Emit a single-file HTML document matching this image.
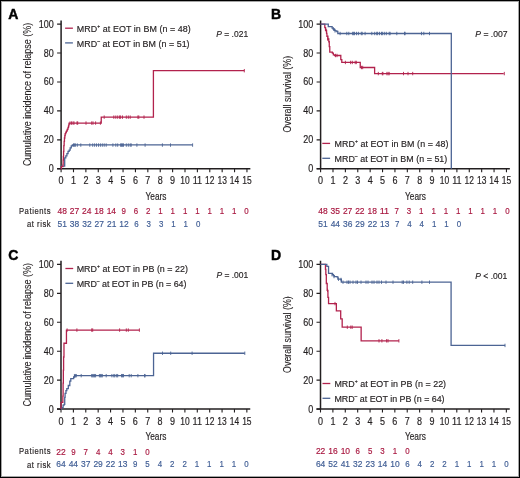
<!DOCTYPE html><html><head><meta charset="utf-8"><style>html,body{margin:0;padding:0;background:#fff;}svg{display:block;will-change:transform;}text{font-family:"Liberation Sans", sans-serif;paint-order:stroke;} text.n{stroke-width:0.28px;}</style></head><body>
<svg width="520" height="478" viewBox="0 0 520 478">
<rect x="0" y="0" width="520" height="478" fill="#fff"/>
<rect x="0.5" y="0.5" width="519" height="477" fill="none" stroke="#000" stroke-width="1"/>
<rect x="1.5" y="1.5" width="517" height="475" fill="none" stroke="#000" stroke-width="1" stroke-opacity="0.35"/>
<text x="8.3" y="18.6" font-size="14.0" font-weight="bold" fill="#000" stroke="#000" stroke-width="0.45">A</text>
<path d="M61.10 20.50V168.80M57.10 168.80H250.35" stroke="#231f20" stroke-width="1.5" fill="none"/>
<path d="M57.10 168.80H61.10M57.10 139.86H61.10M57.10 110.92H61.10M57.10 81.98H61.10M57.10 53.04H61.10M57.10 24.10H61.10M61.10 168.80V172.20M73.49 168.80V172.20M85.88 168.80V172.20M98.27 168.80V172.20M110.66 168.80V172.20M123.05 168.80V172.20M135.44 168.80V172.20M147.83 168.80V172.20M160.22 168.80V172.20M172.61 168.80V172.20M185.00 168.80V172.20M197.39 168.80V172.20M209.78 168.80V172.20M222.17 168.80V172.20M234.56 168.80V172.20M246.95 168.80V172.20" stroke="#231f20" stroke-width="1.1" fill="none"/>
<text x="53.80" y="172.30" font-size="10.0" text-anchor="end" fill="#231f20" stroke="#231f20" stroke-width="0.18" textLength="5.00" lengthAdjust="spacingAndGlyphs" >0</text>
<text x="53.80" y="143.36" font-size="10.0" text-anchor="end" fill="#231f20" stroke="#231f20" stroke-width="0.18" textLength="10.00" lengthAdjust="spacingAndGlyphs" >20</text>
<text x="53.80" y="114.42" font-size="10.0" text-anchor="end" fill="#231f20" stroke="#231f20" stroke-width="0.18" textLength="10.00" lengthAdjust="spacingAndGlyphs" >40</text>
<text x="53.80" y="85.48" font-size="10.0" text-anchor="end" fill="#231f20" stroke="#231f20" stroke-width="0.18" textLength="10.00" lengthAdjust="spacingAndGlyphs" >60</text>
<text x="53.80" y="56.54" font-size="10.0" text-anchor="end" fill="#231f20" stroke="#231f20" stroke-width="0.18" textLength="10.00" lengthAdjust="spacingAndGlyphs" >80</text>
<text x="53.80" y="27.60" font-size="10.0" text-anchor="end" fill="#231f20" stroke="#231f20" stroke-width="0.18" textLength="15.00" lengthAdjust="spacingAndGlyphs" >100</text>
<text x="61.10" y="184.30" font-size="10.0" text-anchor="middle" fill="#231f20" stroke="#231f20" stroke-width="0.18" textLength="5.00" lengthAdjust="spacingAndGlyphs" >0</text>
<text x="73.49" y="184.30" font-size="10.0" text-anchor="middle" fill="#231f20" stroke="#231f20" stroke-width="0.18" textLength="5.00" lengthAdjust="spacingAndGlyphs" >1</text>
<text x="85.88" y="184.30" font-size="10.0" text-anchor="middle" fill="#231f20" stroke="#231f20" stroke-width="0.18" textLength="5.00" lengthAdjust="spacingAndGlyphs" >2</text>
<text x="98.27" y="184.30" font-size="10.0" text-anchor="middle" fill="#231f20" stroke="#231f20" stroke-width="0.18" textLength="5.00" lengthAdjust="spacingAndGlyphs" >3</text>
<text x="110.66" y="184.30" font-size="10.0" text-anchor="middle" fill="#231f20" stroke="#231f20" stroke-width="0.18" textLength="5.00" lengthAdjust="spacingAndGlyphs" >4</text>
<text x="123.05" y="184.30" font-size="10.0" text-anchor="middle" fill="#231f20" stroke="#231f20" stroke-width="0.18" textLength="5.00" lengthAdjust="spacingAndGlyphs" >5</text>
<text x="135.44" y="184.30" font-size="10.0" text-anchor="middle" fill="#231f20" stroke="#231f20" stroke-width="0.18" textLength="5.00" lengthAdjust="spacingAndGlyphs" >6</text>
<text x="147.83" y="184.30" font-size="10.0" text-anchor="middle" fill="#231f20" stroke="#231f20" stroke-width="0.18" textLength="5.00" lengthAdjust="spacingAndGlyphs" >7</text>
<text x="160.22" y="184.30" font-size="10.0" text-anchor="middle" fill="#231f20" stroke="#231f20" stroke-width="0.18" textLength="5.00" lengthAdjust="spacingAndGlyphs" >8</text>
<text x="172.61" y="184.30" font-size="10.0" text-anchor="middle" fill="#231f20" stroke="#231f20" stroke-width="0.18" textLength="5.00" lengthAdjust="spacingAndGlyphs" >9</text>
<text x="185.00" y="184.30" font-size="10.0" text-anchor="middle" fill="#231f20" stroke="#231f20" stroke-width="0.18" textLength="9.40" lengthAdjust="spacingAndGlyphs" >10</text>
<text x="197.39" y="184.30" font-size="10.0" text-anchor="middle" fill="#231f20" stroke="#231f20" stroke-width="0.18" textLength="9.40" lengthAdjust="spacingAndGlyphs" >11</text>
<text x="209.78" y="184.30" font-size="10.0" text-anchor="middle" fill="#231f20" stroke="#231f20" stroke-width="0.18" textLength="9.40" lengthAdjust="spacingAndGlyphs" >12</text>
<text x="222.17" y="184.30" font-size="10.0" text-anchor="middle" fill="#231f20" stroke="#231f20" stroke-width="0.18" textLength="9.40" lengthAdjust="spacingAndGlyphs" >13</text>
<text x="234.56" y="184.30" font-size="10.0" text-anchor="middle" fill="#231f20" stroke="#231f20" stroke-width="0.18" textLength="9.40" lengthAdjust="spacingAndGlyphs" >14</text>
<text x="246.95" y="184.30" font-size="10.0" text-anchor="middle" fill="#231f20" stroke="#231f20" stroke-width="0.18" textLength="9.40" lengthAdjust="spacingAndGlyphs" >15</text>
<text x="145.50" y="199.70" font-size="11.8" text-anchor="start" fill="#231f20" stroke="#231f20" stroke-width="0.18" textLength="20.90" lengthAdjust="spacingAndGlyphs" >Years</text>
<text transform="translate(31.20 166.10) rotate(-90)" x="0" y="0" font-size="11.6" fill="#231f20" stroke="#231f20" stroke-width="0.12" textLength="143.30" lengthAdjust="spacingAndGlyphs">Cumulative incidence of relapse (%)</text>
<path d="M61.10 168.80H61.35V166.05H64.69V157.95H65.81V155.78H66.92V153.61H68.04V151.29H69.15V150.13H70.14V147.96H71.26V145.79H72.37V144.92H192.56" stroke="#4c6494" stroke-width="1.3" fill="none" stroke-linejoin="miter"/>
<path d="M73.50 143.37V146.77M74.40 143.37V146.77M75.40 143.37V146.77M77.30 143.37V146.77M80.80 143.37V146.77M89.80 143.37V146.77M92.70 143.37V146.77M94.60 143.37V146.77M96.50 143.37V146.77M98.50 143.37V146.77M100.40 143.37V146.77M102.30 143.37V146.77M104.20 143.37V146.77M106.20 143.37V146.77M112.90 143.37V146.77M115.80 143.37V146.77M117.70 143.37V146.77M120.60 143.37V146.77M121.50 143.37V146.77M122.50 143.37V146.77M123.50 143.37V146.77M126.30 143.37V146.77M128.30 143.37V146.77M130.20 143.37V146.77M131.20 143.37V146.77M136.90 143.37V146.77M145.10 143.37V146.77M162.40 143.37V146.77M170.50 143.37V146.77M192.60 143.37V146.77" stroke="#4c6494" stroke-width="0.9" fill="none"/>
<path d="M61.10 168.80H61.35V166.63H62.96V164.46H63.14V160.12H63.33V156.50H63.58V151.44H63.83V145.65H64.14V141.31H64.45V137.98H64.82V135.52H65.19V133.64H65.81V132.34H66.30V131.32H66.92V130.17H67.42V129.15H68.04V127.42H68.53V125.82H68.91V124.23H69.15V123.07H101.24V117.14H153.41V70.69H244.35" stroke="#b2224d" stroke-width="1.3" fill="none" stroke-linejoin="miter"/>
<path d="M70.00 121.37V124.77M71.50 121.37V124.77M73.00 121.37V124.77M74.00 121.37V124.77M77.00 121.37V124.77M77.70 121.37V124.77M86.00 121.37V124.77M91.70 121.37V124.77M93.00 121.37V124.77M95.60 121.37V124.77M100.40 121.37V124.77M104.20 115.44V118.84M113.80 115.44V118.84M115.80 115.44V118.84M117.70 115.44V118.84M119.60 115.44V118.84M120.60 115.44V118.84M122.50 115.44V118.84M126.30 115.44V118.84M128.30 115.44V118.84M130.20 115.44V118.84M137.90 115.44V118.84M138.80 115.44V118.84M144.00 115.44V118.84M244.30 68.99V72.39" stroke="#b2224d" stroke-width="0.9" fill="none"/>
<path d="M65.10 28.20H72.90" stroke="#b2224d" stroke-width="1.3"/>
<text transform="translate(76.80 31.80) scale(0.9 1)" x="0" y="0" font-size="9.9" text-anchor="start" fill="#231f20" stroke="#231f20" stroke-width="0.18" textLength="126.67" lengthAdjust="spacing">MRD<tspan font-size="5.6" dy="-4.0">+</tspan><tspan dy="4.0"> at EOT in BM (n = 48)</tspan></text>
<path d="M65.10 42.90H72.90" stroke="#4c6494" stroke-width="1.3"/>
<text transform="translate(76.80 46.50) scale(0.9 1)" x="0" y="0" font-size="9.9" text-anchor="start" fill="#231f20" stroke="#231f20" stroke-width="0.18" textLength="125.33" lengthAdjust="spacing">MRD<tspan font-size="5.6" dy="-4.0">–</tspan><tspan dy="4.0"> at EOT in BM (n = 51)</tspan></text>
<text x="216.30" y="36.70" font-size="9.8" fill="#231f20" stroke="#231f20" stroke-width="0.18" textLength="31.80" lengthAdjust="spacingAndGlyphs"><tspan font-style="italic">P</tspan> = .021</text>
<text transform="translate(50.60 213.80) scale(0.8 1)" x="0" y="0" font-size="9.6" text-anchor="end" fill="#231f20" stroke="#231f20" stroke-width="0.18" textLength="39.62" lengthAdjust="spacing">Patients</text>
<text transform="translate(50.60 227.40) scale(0.8 1)" x="0" y="0" font-size="9.6" text-anchor="end" fill="#231f20" stroke="#231f20" stroke-width="0.18" textLength="29.62" lengthAdjust="spacing">at risk</text>
<text x="62.20" y="213.90" font-size="9.8" text-anchor="middle" fill="#a8163f" stroke="#a8163f" stroke-width="0.18" textLength="9.40" lengthAdjust="spacingAndGlyphs" >48</text>
<text x="74.49" y="213.90" font-size="9.8" text-anchor="middle" fill="#a8163f" stroke="#a8163f" stroke-width="0.18" textLength="9.40" lengthAdjust="spacingAndGlyphs" >27</text>
<text x="86.78" y="213.90" font-size="9.8" text-anchor="middle" fill="#a8163f" stroke="#a8163f" stroke-width="0.18" textLength="9.40" lengthAdjust="spacingAndGlyphs" >24</text>
<text x="99.07" y="213.90" font-size="9.8" text-anchor="middle" fill="#a8163f" stroke="#a8163f" stroke-width="0.18" textLength="9.40" lengthAdjust="spacingAndGlyphs" >18</text>
<text x="111.36" y="213.90" font-size="9.8" text-anchor="middle" fill="#a8163f" stroke="#a8163f" stroke-width="0.18" textLength="9.40" lengthAdjust="spacingAndGlyphs" >14</text>
<text x="123.65" y="213.90" font-size="9.8" text-anchor="middle" fill="#a8163f" stroke="#a8163f" stroke-width="0.18" textLength="4.40" lengthAdjust="spacingAndGlyphs" >9</text>
<text x="135.94" y="213.90" font-size="9.8" text-anchor="middle" fill="#a8163f" stroke="#a8163f" stroke-width="0.18" textLength="4.40" lengthAdjust="spacingAndGlyphs" >6</text>
<text x="148.23" y="213.90" font-size="9.8" text-anchor="middle" fill="#a8163f" stroke="#a8163f" stroke-width="0.18" textLength="4.40" lengthAdjust="spacingAndGlyphs" >2</text>
<text x="160.52" y="213.90" font-size="9.8" text-anchor="middle" fill="#a8163f" stroke="#a8163f" stroke-width="0.18" textLength="4.40" lengthAdjust="spacingAndGlyphs" >1</text>
<text x="172.81" y="213.90" font-size="9.8" text-anchor="middle" fill="#a8163f" stroke="#a8163f" stroke-width="0.18" textLength="4.40" lengthAdjust="spacingAndGlyphs" >1</text>
<text x="185.10" y="213.90" font-size="9.8" text-anchor="middle" fill="#a8163f" stroke="#a8163f" stroke-width="0.18" textLength="4.40" lengthAdjust="spacingAndGlyphs" >1</text>
<text x="197.39" y="213.90" font-size="9.8" text-anchor="middle" fill="#a8163f" stroke="#a8163f" stroke-width="0.18" textLength="4.40" lengthAdjust="spacingAndGlyphs" >1</text>
<text x="209.68" y="213.90" font-size="9.8" text-anchor="middle" fill="#a8163f" stroke="#a8163f" stroke-width="0.18" textLength="4.40" lengthAdjust="spacingAndGlyphs" >1</text>
<text x="221.97" y="213.90" font-size="9.8" text-anchor="middle" fill="#a8163f" stroke="#a8163f" stroke-width="0.18" textLength="4.40" lengthAdjust="spacingAndGlyphs" >1</text>
<text x="234.26" y="213.90" font-size="9.8" text-anchor="middle" fill="#a8163f" stroke="#a8163f" stroke-width="0.18" textLength="4.40" lengthAdjust="spacingAndGlyphs" >1</text>
<text x="246.55" y="213.90" font-size="9.8" text-anchor="middle" fill="#a8163f" stroke="#a8163f" stroke-width="0.18" textLength="4.40" lengthAdjust="spacingAndGlyphs" >0</text>
<text x="62.20" y="227.30" font-size="9.8" text-anchor="middle" fill="#3d5b93" stroke="#3d5b93" stroke-width="0.18" textLength="9.40" lengthAdjust="spacingAndGlyphs" >51</text>
<text x="74.56" y="227.30" font-size="9.8" text-anchor="middle" fill="#3d5b93" stroke="#3d5b93" stroke-width="0.18" textLength="9.40" lengthAdjust="spacingAndGlyphs" >38</text>
<text x="86.92" y="227.30" font-size="9.8" text-anchor="middle" fill="#3d5b93" stroke="#3d5b93" stroke-width="0.18" textLength="9.40" lengthAdjust="spacingAndGlyphs" >32</text>
<text x="99.28" y="227.30" font-size="9.8" text-anchor="middle" fill="#3d5b93" stroke="#3d5b93" stroke-width="0.18" textLength="9.40" lengthAdjust="spacingAndGlyphs" >27</text>
<text x="111.64" y="227.30" font-size="9.8" text-anchor="middle" fill="#3d5b93" stroke="#3d5b93" stroke-width="0.18" textLength="9.40" lengthAdjust="spacingAndGlyphs" >21</text>
<text x="124.00" y="227.30" font-size="9.8" text-anchor="middle" fill="#3d5b93" stroke="#3d5b93" stroke-width="0.18" textLength="9.40" lengthAdjust="spacingAndGlyphs" >12</text>
<text x="136.36" y="227.30" font-size="9.8" text-anchor="middle" fill="#3d5b93" stroke="#3d5b93" stroke-width="0.18" textLength="4.40" lengthAdjust="spacingAndGlyphs" >6</text>
<text x="148.72" y="227.30" font-size="9.8" text-anchor="middle" fill="#3d5b93" stroke="#3d5b93" stroke-width="0.18" textLength="4.40" lengthAdjust="spacingAndGlyphs" >3</text>
<text x="161.08" y="227.30" font-size="9.8" text-anchor="middle" fill="#3d5b93" stroke="#3d5b93" stroke-width="0.18" textLength="4.40" lengthAdjust="spacingAndGlyphs" >3</text>
<text x="173.44" y="227.30" font-size="9.8" text-anchor="middle" fill="#3d5b93" stroke="#3d5b93" stroke-width="0.18" textLength="4.40" lengthAdjust="spacingAndGlyphs" >1</text>
<text x="185.80" y="227.30" font-size="9.8" text-anchor="middle" fill="#3d5b93" stroke="#3d5b93" stroke-width="0.18" textLength="4.40" lengthAdjust="spacingAndGlyphs" >1</text>
<text x="198.16" y="227.30" font-size="9.8" text-anchor="middle" fill="#3d5b93" stroke="#3d5b93" stroke-width="0.18" textLength="4.40" lengthAdjust="spacingAndGlyphs" >0</text>
<text x="270.9" y="18.7" font-size="14.0" font-weight="bold" fill="#000" stroke="#000" stroke-width="0.45">B</text>
<path d="M320.60 20.50V168.80M316.60 168.80H509.85" stroke="#231f20" stroke-width="1.5" fill="none"/>
<path d="M316.60 168.80H320.60M316.60 139.86H320.60M316.60 110.92H320.60M316.60 81.98H320.60M316.60 53.04H320.60M316.60 24.10H320.60M320.60 168.80V172.20M332.99 168.80V172.20M345.38 168.80V172.20M357.77 168.80V172.20M370.16 168.80V172.20M382.55 168.80V172.20M394.94 168.80V172.20M407.33 168.80V172.20M419.72 168.80V172.20M432.11 168.80V172.20M444.50 168.80V172.20M456.89 168.80V172.20M469.28 168.80V172.20M481.67 168.80V172.20M494.06 168.80V172.20M506.45 168.80V172.20" stroke="#231f20" stroke-width="1.1" fill="none"/>
<text x="313.30" y="172.30" font-size="10.0" text-anchor="end" fill="#231f20" stroke="#231f20" stroke-width="0.18" textLength="5.00" lengthAdjust="spacingAndGlyphs" >0</text>
<text x="313.30" y="143.36" font-size="10.0" text-anchor="end" fill="#231f20" stroke="#231f20" stroke-width="0.18" textLength="10.00" lengthAdjust="spacingAndGlyphs" >20</text>
<text x="313.30" y="114.42" font-size="10.0" text-anchor="end" fill="#231f20" stroke="#231f20" stroke-width="0.18" textLength="10.00" lengthAdjust="spacingAndGlyphs" >40</text>
<text x="313.30" y="85.48" font-size="10.0" text-anchor="end" fill="#231f20" stroke="#231f20" stroke-width="0.18" textLength="10.00" lengthAdjust="spacingAndGlyphs" >60</text>
<text x="313.30" y="56.54" font-size="10.0" text-anchor="end" fill="#231f20" stroke="#231f20" stroke-width="0.18" textLength="10.00" lengthAdjust="spacingAndGlyphs" >80</text>
<text x="313.30" y="27.60" font-size="10.0" text-anchor="end" fill="#231f20" stroke="#231f20" stroke-width="0.18" textLength="15.00" lengthAdjust="spacingAndGlyphs" >100</text>
<text x="320.60" y="184.30" font-size="10.0" text-anchor="middle" fill="#231f20" stroke="#231f20" stroke-width="0.18" textLength="5.00" lengthAdjust="spacingAndGlyphs" >0</text>
<text x="332.99" y="184.30" font-size="10.0" text-anchor="middle" fill="#231f20" stroke="#231f20" stroke-width="0.18" textLength="5.00" lengthAdjust="spacingAndGlyphs" >1</text>
<text x="345.38" y="184.30" font-size="10.0" text-anchor="middle" fill="#231f20" stroke="#231f20" stroke-width="0.18" textLength="5.00" lengthAdjust="spacingAndGlyphs" >2</text>
<text x="357.77" y="184.30" font-size="10.0" text-anchor="middle" fill="#231f20" stroke="#231f20" stroke-width="0.18" textLength="5.00" lengthAdjust="spacingAndGlyphs" >3</text>
<text x="370.16" y="184.30" font-size="10.0" text-anchor="middle" fill="#231f20" stroke="#231f20" stroke-width="0.18" textLength="5.00" lengthAdjust="spacingAndGlyphs" >4</text>
<text x="382.55" y="184.30" font-size="10.0" text-anchor="middle" fill="#231f20" stroke="#231f20" stroke-width="0.18" textLength="5.00" lengthAdjust="spacingAndGlyphs" >5</text>
<text x="394.94" y="184.30" font-size="10.0" text-anchor="middle" fill="#231f20" stroke="#231f20" stroke-width="0.18" textLength="5.00" lengthAdjust="spacingAndGlyphs" >6</text>
<text x="407.33" y="184.30" font-size="10.0" text-anchor="middle" fill="#231f20" stroke="#231f20" stroke-width="0.18" textLength="5.00" lengthAdjust="spacingAndGlyphs" >7</text>
<text x="419.72" y="184.30" font-size="10.0" text-anchor="middle" fill="#231f20" stroke="#231f20" stroke-width="0.18" textLength="5.00" lengthAdjust="spacingAndGlyphs" >8</text>
<text x="432.11" y="184.30" font-size="10.0" text-anchor="middle" fill="#231f20" stroke="#231f20" stroke-width="0.18" textLength="5.00" lengthAdjust="spacingAndGlyphs" >9</text>
<text x="444.50" y="184.30" font-size="10.0" text-anchor="middle" fill="#231f20" stroke="#231f20" stroke-width="0.18" textLength="9.40" lengthAdjust="spacingAndGlyphs" >10</text>
<text x="456.89" y="184.30" font-size="10.0" text-anchor="middle" fill="#231f20" stroke="#231f20" stroke-width="0.18" textLength="9.40" lengthAdjust="spacingAndGlyphs" >11</text>
<text x="469.28" y="184.30" font-size="10.0" text-anchor="middle" fill="#231f20" stroke="#231f20" stroke-width="0.18" textLength="9.40" lengthAdjust="spacingAndGlyphs" >12</text>
<text x="481.67" y="184.30" font-size="10.0" text-anchor="middle" fill="#231f20" stroke="#231f20" stroke-width="0.18" textLength="9.40" lengthAdjust="spacingAndGlyphs" >13</text>
<text x="494.06" y="184.30" font-size="10.0" text-anchor="middle" fill="#231f20" stroke="#231f20" stroke-width="0.18" textLength="9.40" lengthAdjust="spacingAndGlyphs" >14</text>
<text x="506.45" y="184.30" font-size="10.0" text-anchor="middle" fill="#231f20" stroke="#231f20" stroke-width="0.18" textLength="9.40" lengthAdjust="spacingAndGlyphs" >15</text>
<text x="405.00" y="199.70" font-size="11.8" text-anchor="start" fill="#231f20" stroke="#231f20" stroke-width="0.18" textLength="20.90" lengthAdjust="spacingAndGlyphs" >Years</text>
<text transform="translate(290.90 132.60) rotate(-90)" x="0" y="0" font-size="11.6" fill="#231f20" stroke="#231f20" stroke-width="0.12" textLength="76.70" lengthAdjust="spacingAndGlyphs">Overall survival (%)</text>
<path d="M320.60 24.10H324.81V27.72H325.56V30.47H326.55V33.36H326.92V36.25H327.91V39.00H328.78V41.75H329.27V46.53H329.77V52.17H332.37V53.04H333.36V54.92H334.60V55.50H340.80V59.70H341.79V62.45H360.25V67.51H374.62V73.59H503.72" stroke="#b2224d" stroke-width="1.3" fill="none" stroke-linejoin="miter"/>
<path d="M345.40 60.75V64.15M350.60 60.75V64.15M352.30 60.75V64.15M355.20 60.75V64.15M356.30 60.75V64.15M361.50 65.81V69.21M362.70 65.81V69.21M378.30 71.89V75.29M382.30 71.89V75.29M382.90 71.89V75.29M386.90 71.89V75.29M388.10 71.89V75.29M389.20 71.89V75.29M403.50 71.89V75.29M408.00 71.89V75.29M412.70 71.89V75.29M504.30 71.89V75.29M326.20 28.77V32.17M327.60 37.30V40.70M335.50 53.80V57.20M337.00 53.80V57.20" stroke="#b2224d" stroke-width="0.9" fill="none"/>
<path d="M320.60 24.10H328.28V26.70H332.12V28.15H333.11V29.02H334.48V30.47H335.47V30.90H336.83V31.48H337.82V33.51H451.31V168.80" stroke="#4c6494" stroke-width="1.3" fill="none" stroke-linejoin="miter"/>
<path d="M340.10 31.81V35.21M346.80 31.81V35.21M348.80 31.81V35.21M352.60 31.81V35.21M353.60 31.81V35.21M354.50 31.81V35.21M356.50 31.81V35.21M358.40 31.81V35.21M361.30 31.81V35.21M362.20 31.81V35.21M365.10 31.81V35.21M371.80 31.81V35.21M374.70 31.81V35.21M376.70 31.81V35.21M377.60 31.81V35.21M379.50 31.81V35.21M381.50 31.81V35.21M382.40 31.81V35.21M384.30 31.81V35.21M386.30 31.81V35.21M389.20 31.81V35.21M390.10 31.81V35.21M396.80 31.81V35.21M404.50 31.81V35.21M405.10 31.81V35.21M421.50 31.81V35.21M423.80 31.81V35.21M429.50 31.81V35.21M333.50 27.32V30.72M335.00 29.20V32.60" stroke="#4c6494" stroke-width="0.9" fill="none"/>
<path d="M322.30 143.40H330.10" stroke="#b2224d" stroke-width="1.3"/>
<text transform="translate(334.50 147.00) scale(0.9 1)" x="0" y="0" font-size="9.9" text-anchor="start" fill="#231f20" stroke="#231f20" stroke-width="0.18" textLength="126.67" lengthAdjust="spacing">MRD<tspan font-size="5.6" dy="-4.0">+</tspan><tspan dy="4.0"> at EOT in BM (n = 48)</tspan></text>
<path d="M322.30 158.30H330.10" stroke="#4c6494" stroke-width="1.3"/>
<text transform="translate(334.50 161.90) scale(0.9 1)" x="0" y="0" font-size="9.9" text-anchor="start" fill="#231f20" stroke="#231f20" stroke-width="0.18" textLength="125.33" lengthAdjust="spacing">MRD<tspan font-size="5.6" dy="-4.0">–</tspan><tspan dy="4.0"> at EOT in BM (n = 51)</tspan></text>
<text x="475.30" y="36.70" font-size="9.8" fill="#231f20" stroke="#231f20" stroke-width="0.18" textLength="32.30" lengthAdjust="spacingAndGlyphs"><tspan font-style="italic">P</tspan> = .007</text>
<text x="323.00" y="213.90" font-size="9.8" text-anchor="middle" fill="#a8163f" stroke="#a8163f" stroke-width="0.18" textLength="9.40" lengthAdjust="spacingAndGlyphs" >48</text>
<text x="335.29" y="213.90" font-size="9.8" text-anchor="middle" fill="#a8163f" stroke="#a8163f" stroke-width="0.18" textLength="9.40" lengthAdjust="spacingAndGlyphs" >35</text>
<text x="347.58" y="213.90" font-size="9.8" text-anchor="middle" fill="#a8163f" stroke="#a8163f" stroke-width="0.18" textLength="9.40" lengthAdjust="spacingAndGlyphs" >27</text>
<text x="359.87" y="213.90" font-size="9.8" text-anchor="middle" fill="#a8163f" stroke="#a8163f" stroke-width="0.18" textLength="9.40" lengthAdjust="spacingAndGlyphs" >22</text>
<text x="372.16" y="213.90" font-size="9.8" text-anchor="middle" fill="#a8163f" stroke="#a8163f" stroke-width="0.18" textLength="9.40" lengthAdjust="spacingAndGlyphs" >18</text>
<text x="384.45" y="213.90" font-size="9.8" text-anchor="middle" fill="#a8163f" stroke="#a8163f" stroke-width="0.18" textLength="9.40" lengthAdjust="spacingAndGlyphs" >11</text>
<text x="396.74" y="213.90" font-size="9.8" text-anchor="middle" fill="#a8163f" stroke="#a8163f" stroke-width="0.18" textLength="4.40" lengthAdjust="spacingAndGlyphs" >7</text>
<text x="409.03" y="213.90" font-size="9.8" text-anchor="middle" fill="#a8163f" stroke="#a8163f" stroke-width="0.18" textLength="4.40" lengthAdjust="spacingAndGlyphs" >3</text>
<text x="421.32" y="213.90" font-size="9.8" text-anchor="middle" fill="#a8163f" stroke="#a8163f" stroke-width="0.18" textLength="4.40" lengthAdjust="spacingAndGlyphs" >1</text>
<text x="433.61" y="213.90" font-size="9.8" text-anchor="middle" fill="#a8163f" stroke="#a8163f" stroke-width="0.18" textLength="4.40" lengthAdjust="spacingAndGlyphs" >1</text>
<text x="445.90" y="213.90" font-size="9.8" text-anchor="middle" fill="#a8163f" stroke="#a8163f" stroke-width="0.18" textLength="4.40" lengthAdjust="spacingAndGlyphs" >1</text>
<text x="458.19" y="213.90" font-size="9.8" text-anchor="middle" fill="#a8163f" stroke="#a8163f" stroke-width="0.18" textLength="4.40" lengthAdjust="spacingAndGlyphs" >1</text>
<text x="470.48" y="213.90" font-size="9.8" text-anchor="middle" fill="#a8163f" stroke="#a8163f" stroke-width="0.18" textLength="4.40" lengthAdjust="spacingAndGlyphs" >1</text>
<text x="482.77" y="213.90" font-size="9.8" text-anchor="middle" fill="#a8163f" stroke="#a8163f" stroke-width="0.18" textLength="4.40" lengthAdjust="spacingAndGlyphs" >1</text>
<text x="495.06" y="213.90" font-size="9.8" text-anchor="middle" fill="#a8163f" stroke="#a8163f" stroke-width="0.18" textLength="4.40" lengthAdjust="spacingAndGlyphs" >1</text>
<text x="507.35" y="213.90" font-size="9.8" text-anchor="middle" fill="#a8163f" stroke="#a8163f" stroke-width="0.18" textLength="4.40" lengthAdjust="spacingAndGlyphs" >0</text>
<text x="323.00" y="227.20" font-size="9.8" text-anchor="middle" fill="#3d5b93" stroke="#3d5b93" stroke-width="0.18" textLength="9.40" lengthAdjust="spacingAndGlyphs" >51</text>
<text x="335.35" y="227.20" font-size="9.8" text-anchor="middle" fill="#3d5b93" stroke="#3d5b93" stroke-width="0.18" textLength="9.40" lengthAdjust="spacingAndGlyphs" >44</text>
<text x="347.70" y="227.20" font-size="9.8" text-anchor="middle" fill="#3d5b93" stroke="#3d5b93" stroke-width="0.18" textLength="9.40" lengthAdjust="spacingAndGlyphs" >36</text>
<text x="360.05" y="227.20" font-size="9.8" text-anchor="middle" fill="#3d5b93" stroke="#3d5b93" stroke-width="0.18" textLength="9.40" lengthAdjust="spacingAndGlyphs" >29</text>
<text x="372.40" y="227.20" font-size="9.8" text-anchor="middle" fill="#3d5b93" stroke="#3d5b93" stroke-width="0.18" textLength="9.40" lengthAdjust="spacingAndGlyphs" >22</text>
<text x="384.75" y="227.20" font-size="9.8" text-anchor="middle" fill="#3d5b93" stroke="#3d5b93" stroke-width="0.18" textLength="9.40" lengthAdjust="spacingAndGlyphs" >13</text>
<text x="397.10" y="227.20" font-size="9.8" text-anchor="middle" fill="#3d5b93" stroke="#3d5b93" stroke-width="0.18" textLength="4.40" lengthAdjust="spacingAndGlyphs" >7</text>
<text x="409.45" y="227.20" font-size="9.8" text-anchor="middle" fill="#3d5b93" stroke="#3d5b93" stroke-width="0.18" textLength="4.40" lengthAdjust="spacingAndGlyphs" >4</text>
<text x="421.80" y="227.20" font-size="9.8" text-anchor="middle" fill="#3d5b93" stroke="#3d5b93" stroke-width="0.18" textLength="4.40" lengthAdjust="spacingAndGlyphs" >4</text>
<text x="434.15" y="227.20" font-size="9.8" text-anchor="middle" fill="#3d5b93" stroke="#3d5b93" stroke-width="0.18" textLength="4.40" lengthAdjust="spacingAndGlyphs" >1</text>
<text x="446.50" y="227.20" font-size="9.8" text-anchor="middle" fill="#3d5b93" stroke="#3d5b93" stroke-width="0.18" textLength="4.40" lengthAdjust="spacingAndGlyphs" >1</text>
<text x="458.85" y="227.20" font-size="9.8" text-anchor="middle" fill="#3d5b93" stroke="#3d5b93" stroke-width="0.18" textLength="4.40" lengthAdjust="spacingAndGlyphs" >0</text>
<text x="8.3" y="259.8" font-size="14.0" font-weight="bold" fill="#000" stroke="#000" stroke-width="0.45">C</text>
<path d="M61.00 260.80V409.10M57.00 409.10H250.25" stroke="#231f20" stroke-width="1.5" fill="none"/>
<path d="M57.00 409.10H61.00M57.00 380.16H61.00M57.00 351.22H61.00M57.00 322.28H61.00M57.00 293.34H61.00M57.00 264.40H61.00M61.00 409.10V412.50M73.39 409.10V412.50M85.78 409.10V412.50M98.17 409.10V412.50M110.56 409.10V412.50M122.95 409.10V412.50M135.34 409.10V412.50M147.73 409.10V412.50M160.12 409.10V412.50M172.51 409.10V412.50M184.90 409.10V412.50M197.29 409.10V412.50M209.68 409.10V412.50M222.07 409.10V412.50M234.46 409.10V412.50M246.85 409.10V412.50" stroke="#231f20" stroke-width="1.1" fill="none"/>
<text x="53.70" y="412.60" font-size="10.0" text-anchor="end" fill="#231f20" stroke="#231f20" stroke-width="0.18" textLength="5.00" lengthAdjust="spacingAndGlyphs" >0</text>
<text x="53.70" y="383.66" font-size="10.0" text-anchor="end" fill="#231f20" stroke="#231f20" stroke-width="0.18" textLength="10.00" lengthAdjust="spacingAndGlyphs" >20</text>
<text x="53.70" y="354.72" font-size="10.0" text-anchor="end" fill="#231f20" stroke="#231f20" stroke-width="0.18" textLength="10.00" lengthAdjust="spacingAndGlyphs" >40</text>
<text x="53.70" y="325.78" font-size="10.0" text-anchor="end" fill="#231f20" stroke="#231f20" stroke-width="0.18" textLength="10.00" lengthAdjust="spacingAndGlyphs" >60</text>
<text x="53.70" y="296.84" font-size="10.0" text-anchor="end" fill="#231f20" stroke="#231f20" stroke-width="0.18" textLength="10.00" lengthAdjust="spacingAndGlyphs" >80</text>
<text x="53.70" y="267.90" font-size="10.0" text-anchor="end" fill="#231f20" stroke="#231f20" stroke-width="0.18" textLength="15.00" lengthAdjust="spacingAndGlyphs" >100</text>
<text x="61.00" y="424.60" font-size="10.0" text-anchor="middle" fill="#231f20" stroke="#231f20" stroke-width="0.18" textLength="5.00" lengthAdjust="spacingAndGlyphs" >0</text>
<text x="73.39" y="424.60" font-size="10.0" text-anchor="middle" fill="#231f20" stroke="#231f20" stroke-width="0.18" textLength="5.00" lengthAdjust="spacingAndGlyphs" >1</text>
<text x="85.78" y="424.60" font-size="10.0" text-anchor="middle" fill="#231f20" stroke="#231f20" stroke-width="0.18" textLength="5.00" lengthAdjust="spacingAndGlyphs" >2</text>
<text x="98.17" y="424.60" font-size="10.0" text-anchor="middle" fill="#231f20" stroke="#231f20" stroke-width="0.18" textLength="5.00" lengthAdjust="spacingAndGlyphs" >3</text>
<text x="110.56" y="424.60" font-size="10.0" text-anchor="middle" fill="#231f20" stroke="#231f20" stroke-width="0.18" textLength="5.00" lengthAdjust="spacingAndGlyphs" >4</text>
<text x="122.95" y="424.60" font-size="10.0" text-anchor="middle" fill="#231f20" stroke="#231f20" stroke-width="0.18" textLength="5.00" lengthAdjust="spacingAndGlyphs" >5</text>
<text x="135.34" y="424.60" font-size="10.0" text-anchor="middle" fill="#231f20" stroke="#231f20" stroke-width="0.18" textLength="5.00" lengthAdjust="spacingAndGlyphs" >6</text>
<text x="147.73" y="424.60" font-size="10.0" text-anchor="middle" fill="#231f20" stroke="#231f20" stroke-width="0.18" textLength="5.00" lengthAdjust="spacingAndGlyphs" >7</text>
<text x="160.12" y="424.60" font-size="10.0" text-anchor="middle" fill="#231f20" stroke="#231f20" stroke-width="0.18" textLength="5.00" lengthAdjust="spacingAndGlyphs" >8</text>
<text x="172.51" y="424.60" font-size="10.0" text-anchor="middle" fill="#231f20" stroke="#231f20" stroke-width="0.18" textLength="5.00" lengthAdjust="spacingAndGlyphs" >9</text>
<text x="184.90" y="424.60" font-size="10.0" text-anchor="middle" fill="#231f20" stroke="#231f20" stroke-width="0.18" textLength="9.40" lengthAdjust="spacingAndGlyphs" >10</text>
<text x="197.29" y="424.60" font-size="10.0" text-anchor="middle" fill="#231f20" stroke="#231f20" stroke-width="0.18" textLength="9.40" lengthAdjust="spacingAndGlyphs" >11</text>
<text x="209.68" y="424.60" font-size="10.0" text-anchor="middle" fill="#231f20" stroke="#231f20" stroke-width="0.18" textLength="9.40" lengthAdjust="spacingAndGlyphs" >12</text>
<text x="222.07" y="424.60" font-size="10.0" text-anchor="middle" fill="#231f20" stroke="#231f20" stroke-width="0.18" textLength="9.40" lengthAdjust="spacingAndGlyphs" >13</text>
<text x="234.46" y="424.60" font-size="10.0" text-anchor="middle" fill="#231f20" stroke="#231f20" stroke-width="0.18" textLength="9.40" lengthAdjust="spacingAndGlyphs" >14</text>
<text x="246.85" y="424.60" font-size="10.0" text-anchor="middle" fill="#231f20" stroke="#231f20" stroke-width="0.18" textLength="9.40" lengthAdjust="spacingAndGlyphs" >15</text>
<text x="145.40" y="440.00" font-size="11.8" text-anchor="start" fill="#231f20" stroke="#231f20" stroke-width="0.18" textLength="20.90" lengthAdjust="spacingAndGlyphs" >Years</text>
<text transform="translate(31.10 406.40) rotate(-90)" x="0" y="0" font-size="11.6" fill="#231f20" stroke="#231f20" stroke-width="0.12" textLength="143.30" lengthAdjust="spacingAndGlyphs">Cumulative incidence of relapse (%)</text>
<path d="M61.00 409.10H61.37V407.65H63.11V405.05H64.10V404.32H64.72V397.38H65.09V393.47H65.96V390.58H66.82V388.55H68.31V385.51H69.80V381.17H70.79V378.71H73.64V376.98H74.63V375.67H153.55V353.25H244.74" stroke="#4c6494" stroke-width="1.3" fill="none" stroke-linejoin="miter"/>
<path d="M74.40 373.97V377.37M75.40 373.97V377.37M76.30 373.97V377.37M81.20 373.97V377.37M91.70 373.97V377.37M92.70 373.97V377.37M93.70 373.97V377.37M94.60 373.97V377.37M95.60 373.97V377.37M99.40 373.97V377.37M100.40 373.97V377.37M101.30 373.97V377.37M102.30 373.97V377.37M106.20 373.97V377.37M111.90 373.97V377.37M113.80 373.97V377.37M114.80 373.97V377.37M116.70 373.97V377.37M117.70 373.97V377.37M121.50 373.97V377.37M122.50 373.97V377.37M123.50 373.97V377.37M129.20 373.97V377.37M131.20 373.97V377.37M137.90 373.97V377.37M144.60 373.97V377.37M145.00 373.97V377.37M162.50 351.55V354.95M170.70 351.55V354.95M192.10 351.55V354.95M244.80 351.55V354.95" stroke="#4c6494" stroke-width="0.9" fill="none"/>
<path d="M61.00 409.10H61.00V402.44H62.86V396.08H63.11V383.05H63.35V370.03H63.60V357.01H63.97V343.26H66.45V330.09H139.43" stroke="#b2224d" stroke-width="1.3" fill="none" stroke-linejoin="miter"/>
<path d="M67.10 328.39V331.79M76.90 328.39V331.79M91.70 328.39V331.79M92.70 328.39V331.79M119.60 328.39V331.79M126.30 328.39V331.79M128.30 328.39V331.79M139.40 328.39V331.79" stroke="#b2224d" stroke-width="0.9" fill="none"/>
<path d="M65.40 268.50H73.20" stroke="#b2224d" stroke-width="1.3"/>
<text transform="translate(76.70 272.10) scale(0.9 1)" x="0" y="0" font-size="9.9" text-anchor="start" fill="#231f20" stroke="#231f20" stroke-width="0.18" textLength="123.56" lengthAdjust="spacing">MRD<tspan font-size="5.6" dy="-4.0">+</tspan><tspan dy="4.0"> at EOT in PB (n = 22)</tspan></text>
<path d="M65.40 283.30H73.20" stroke="#4c6494" stroke-width="1.3"/>
<text transform="translate(76.70 286.90) scale(0.9 1)" x="0" y="0" font-size="9.9" text-anchor="start" fill="#231f20" stroke="#231f20" stroke-width="0.18" textLength="122.00" lengthAdjust="spacing">MRD<tspan font-size="5.6" dy="-4.0">–</tspan><tspan dy="4.0"> at EOT in PB (n = 64)</tspan></text>
<text x="216.40" y="277.80" font-size="9.8" fill="#231f20" stroke="#231f20" stroke-width="0.18" textLength="31.90" lengthAdjust="spacingAndGlyphs"><tspan font-style="italic">P</tspan> = .001</text>
<text transform="translate(50.60 454.40) scale(0.8 1)" x="0" y="0" font-size="9.6" text-anchor="end" fill="#231f20" stroke="#231f20" stroke-width="0.18" textLength="39.62" lengthAdjust="spacing">Patients</text>
<text transform="translate(50.60 467.90) scale(0.8 1)" x="0" y="0" font-size="9.6" text-anchor="end" fill="#231f20" stroke="#231f20" stroke-width="0.18" textLength="29.62" lengthAdjust="spacing">at risk</text>
<text x="61.00" y="454.50" font-size="9.8" text-anchor="middle" fill="#a8163f" stroke="#a8163f" stroke-width="0.18" textLength="9.40" lengthAdjust="spacingAndGlyphs" >22</text>
<text x="73.36" y="454.50" font-size="9.8" text-anchor="middle" fill="#a8163f" stroke="#a8163f" stroke-width="0.18" textLength="4.40" lengthAdjust="spacingAndGlyphs" >9</text>
<text x="85.72" y="454.50" font-size="9.8" text-anchor="middle" fill="#a8163f" stroke="#a8163f" stroke-width="0.18" textLength="4.40" lengthAdjust="spacingAndGlyphs" >7</text>
<text x="98.08" y="454.50" font-size="9.8" text-anchor="middle" fill="#a8163f" stroke="#a8163f" stroke-width="0.18" textLength="4.40" lengthAdjust="spacingAndGlyphs" >4</text>
<text x="110.44" y="454.50" font-size="9.8" text-anchor="middle" fill="#a8163f" stroke="#a8163f" stroke-width="0.18" textLength="4.40" lengthAdjust="spacingAndGlyphs" >4</text>
<text x="122.80" y="454.50" font-size="9.8" text-anchor="middle" fill="#a8163f" stroke="#a8163f" stroke-width="0.18" textLength="4.40" lengthAdjust="spacingAndGlyphs" >3</text>
<text x="135.16" y="454.50" font-size="9.8" text-anchor="middle" fill="#a8163f" stroke="#a8163f" stroke-width="0.18" textLength="4.40" lengthAdjust="spacingAndGlyphs" >1</text>
<text x="147.52" y="454.50" font-size="9.8" text-anchor="middle" fill="#a8163f" stroke="#a8163f" stroke-width="0.18" textLength="4.40" lengthAdjust="spacingAndGlyphs" >0</text>
<text x="61.00" y="467.40" font-size="9.8" text-anchor="middle" fill="#3d5b93" stroke="#3d5b93" stroke-width="0.18" textLength="9.40" lengthAdjust="spacingAndGlyphs" >64</text>
<text x="73.36" y="467.40" font-size="9.8" text-anchor="middle" fill="#3d5b93" stroke="#3d5b93" stroke-width="0.18" textLength="9.40" lengthAdjust="spacingAndGlyphs" >44</text>
<text x="85.72" y="467.40" font-size="9.8" text-anchor="middle" fill="#3d5b93" stroke="#3d5b93" stroke-width="0.18" textLength="9.40" lengthAdjust="spacingAndGlyphs" >37</text>
<text x="98.08" y="467.40" font-size="9.8" text-anchor="middle" fill="#3d5b93" stroke="#3d5b93" stroke-width="0.18" textLength="9.40" lengthAdjust="spacingAndGlyphs" >29</text>
<text x="110.44" y="467.40" font-size="9.8" text-anchor="middle" fill="#3d5b93" stroke="#3d5b93" stroke-width="0.18" textLength="9.40" lengthAdjust="spacingAndGlyphs" >22</text>
<text x="122.80" y="467.40" font-size="9.8" text-anchor="middle" fill="#3d5b93" stroke="#3d5b93" stroke-width="0.18" textLength="9.40" lengthAdjust="spacingAndGlyphs" >13</text>
<text x="135.16" y="467.40" font-size="9.8" text-anchor="middle" fill="#3d5b93" stroke="#3d5b93" stroke-width="0.18" textLength="4.40" lengthAdjust="spacingAndGlyphs" >9</text>
<text x="147.52" y="467.40" font-size="9.8" text-anchor="middle" fill="#3d5b93" stroke="#3d5b93" stroke-width="0.18" textLength="4.40" lengthAdjust="spacingAndGlyphs" >5</text>
<text x="159.88" y="467.40" font-size="9.8" text-anchor="middle" fill="#3d5b93" stroke="#3d5b93" stroke-width="0.18" textLength="4.40" lengthAdjust="spacingAndGlyphs" >4</text>
<text x="172.24" y="467.40" font-size="9.8" text-anchor="middle" fill="#3d5b93" stroke="#3d5b93" stroke-width="0.18" textLength="4.40" lengthAdjust="spacingAndGlyphs" >2</text>
<text x="184.60" y="467.40" font-size="9.8" text-anchor="middle" fill="#3d5b93" stroke="#3d5b93" stroke-width="0.18" textLength="4.40" lengthAdjust="spacingAndGlyphs" >2</text>
<text x="196.96" y="467.40" font-size="9.8" text-anchor="middle" fill="#3d5b93" stroke="#3d5b93" stroke-width="0.18" textLength="4.40" lengthAdjust="spacingAndGlyphs" >1</text>
<text x="209.32" y="467.40" font-size="9.8" text-anchor="middle" fill="#3d5b93" stroke="#3d5b93" stroke-width="0.18" textLength="4.40" lengthAdjust="spacingAndGlyphs" >1</text>
<text x="221.68" y="467.40" font-size="9.8" text-anchor="middle" fill="#3d5b93" stroke="#3d5b93" stroke-width="0.18" textLength="4.40" lengthAdjust="spacingAndGlyphs" >1</text>
<text x="234.04" y="467.40" font-size="9.8" text-anchor="middle" fill="#3d5b93" stroke="#3d5b93" stroke-width="0.18" textLength="4.40" lengthAdjust="spacingAndGlyphs" >1</text>
<text x="246.40" y="467.40" font-size="9.8" text-anchor="middle" fill="#3d5b93" stroke="#3d5b93" stroke-width="0.18" textLength="4.40" lengthAdjust="spacingAndGlyphs" >0</text>
<text x="270.9" y="259.8" font-size="14.0" font-weight="bold" fill="#000" stroke="#000" stroke-width="0.45">D</text>
<path d="M320.50 260.80V409.10M316.50 409.10H509.75" stroke="#231f20" stroke-width="1.5" fill="none"/>
<path d="M316.50 409.10H320.50M316.50 380.16H320.50M316.50 351.22H320.50M316.50 322.28H320.50M316.50 293.34H320.50M316.50 264.40H320.50M320.50 409.10V412.50M332.89 409.10V412.50M345.28 409.10V412.50M357.67 409.10V412.50M370.06 409.10V412.50M382.45 409.10V412.50M394.84 409.10V412.50M407.23 409.10V412.50M419.62 409.10V412.50M432.01 409.10V412.50M444.40 409.10V412.50M456.79 409.10V412.50M469.18 409.10V412.50M481.57 409.10V412.50M493.96 409.10V412.50M506.35 409.10V412.50" stroke="#231f20" stroke-width="1.1" fill="none"/>
<text x="313.20" y="412.60" font-size="10.0" text-anchor="end" fill="#231f20" stroke="#231f20" stroke-width="0.18" textLength="5.00" lengthAdjust="spacingAndGlyphs" >0</text>
<text x="313.20" y="383.66" font-size="10.0" text-anchor="end" fill="#231f20" stroke="#231f20" stroke-width="0.18" textLength="10.00" lengthAdjust="spacingAndGlyphs" >20</text>
<text x="313.20" y="354.72" font-size="10.0" text-anchor="end" fill="#231f20" stroke="#231f20" stroke-width="0.18" textLength="10.00" lengthAdjust="spacingAndGlyphs" >40</text>
<text x="313.20" y="325.78" font-size="10.0" text-anchor="end" fill="#231f20" stroke="#231f20" stroke-width="0.18" textLength="10.00" lengthAdjust="spacingAndGlyphs" >60</text>
<text x="313.20" y="296.84" font-size="10.0" text-anchor="end" fill="#231f20" stroke="#231f20" stroke-width="0.18" textLength="10.00" lengthAdjust="spacingAndGlyphs" >80</text>
<text x="313.20" y="267.90" font-size="10.0" text-anchor="end" fill="#231f20" stroke="#231f20" stroke-width="0.18" textLength="15.00" lengthAdjust="spacingAndGlyphs" >100</text>
<text x="320.50" y="424.60" font-size="10.0" text-anchor="middle" fill="#231f20" stroke="#231f20" stroke-width="0.18" textLength="5.00" lengthAdjust="spacingAndGlyphs" >0</text>
<text x="332.89" y="424.60" font-size="10.0" text-anchor="middle" fill="#231f20" stroke="#231f20" stroke-width="0.18" textLength="5.00" lengthAdjust="spacingAndGlyphs" >1</text>
<text x="345.28" y="424.60" font-size="10.0" text-anchor="middle" fill="#231f20" stroke="#231f20" stroke-width="0.18" textLength="5.00" lengthAdjust="spacingAndGlyphs" >2</text>
<text x="357.67" y="424.60" font-size="10.0" text-anchor="middle" fill="#231f20" stroke="#231f20" stroke-width="0.18" textLength="5.00" lengthAdjust="spacingAndGlyphs" >3</text>
<text x="370.06" y="424.60" font-size="10.0" text-anchor="middle" fill="#231f20" stroke="#231f20" stroke-width="0.18" textLength="5.00" lengthAdjust="spacingAndGlyphs" >4</text>
<text x="382.45" y="424.60" font-size="10.0" text-anchor="middle" fill="#231f20" stroke="#231f20" stroke-width="0.18" textLength="5.00" lengthAdjust="spacingAndGlyphs" >5</text>
<text x="394.84" y="424.60" font-size="10.0" text-anchor="middle" fill="#231f20" stroke="#231f20" stroke-width="0.18" textLength="5.00" lengthAdjust="spacingAndGlyphs" >6</text>
<text x="407.23" y="424.60" font-size="10.0" text-anchor="middle" fill="#231f20" stroke="#231f20" stroke-width="0.18" textLength="5.00" lengthAdjust="spacingAndGlyphs" >7</text>
<text x="419.62" y="424.60" font-size="10.0" text-anchor="middle" fill="#231f20" stroke="#231f20" stroke-width="0.18" textLength="5.00" lengthAdjust="spacingAndGlyphs" >8</text>
<text x="432.01" y="424.60" font-size="10.0" text-anchor="middle" fill="#231f20" stroke="#231f20" stroke-width="0.18" textLength="5.00" lengthAdjust="spacingAndGlyphs" >9</text>
<text x="444.40" y="424.60" font-size="10.0" text-anchor="middle" fill="#231f20" stroke="#231f20" stroke-width="0.18" textLength="9.40" lengthAdjust="spacingAndGlyphs" >10</text>
<text x="456.79" y="424.60" font-size="10.0" text-anchor="middle" fill="#231f20" stroke="#231f20" stroke-width="0.18" textLength="9.40" lengthAdjust="spacingAndGlyphs" >11</text>
<text x="469.18" y="424.60" font-size="10.0" text-anchor="middle" fill="#231f20" stroke="#231f20" stroke-width="0.18" textLength="9.40" lengthAdjust="spacingAndGlyphs" >12</text>
<text x="481.57" y="424.60" font-size="10.0" text-anchor="middle" fill="#231f20" stroke="#231f20" stroke-width="0.18" textLength="9.40" lengthAdjust="spacingAndGlyphs" >13</text>
<text x="493.96" y="424.60" font-size="10.0" text-anchor="middle" fill="#231f20" stroke="#231f20" stroke-width="0.18" textLength="9.40" lengthAdjust="spacingAndGlyphs" >14</text>
<text x="506.35" y="424.60" font-size="10.0" text-anchor="middle" fill="#231f20" stroke="#231f20" stroke-width="0.18" textLength="9.40" lengthAdjust="spacingAndGlyphs" >15</text>
<text x="404.90" y="440.00" font-size="11.8" text-anchor="start" fill="#231f20" stroke="#231f20" stroke-width="0.18" textLength="20.90" lengthAdjust="spacingAndGlyphs" >Years</text>
<text transform="translate(290.80 372.90) rotate(-90)" x="0" y="0" font-size="11.6" fill="#231f20" stroke="#231f20" stroke-width="0.12" textLength="76.70" lengthAdjust="spacingAndGlyphs">Overall survival (%)</text>
<path d="M320.50 264.40H325.46V269.46H325.83V274.53H326.32V283.50H327.19V290.30H327.93V297.39H328.55V303.61H336.36V310.85H340.70V318.95H342.18V327.20H361.14V340.80H398.93" stroke="#b2224d" stroke-width="1.3" fill="none" stroke-linejoin="miter"/>
<path d="M347.30 325.50V328.90M350.80 325.50V328.90M352.20 325.50V328.90M379.00 339.10V342.50M381.90 339.10V342.50M386.60 339.10V342.50M388.00 339.10V342.50M398.90 339.10V342.50M327.50 288.60V292.00M335.00 301.91V305.31" stroke="#b2224d" stroke-width="0.9" fill="none"/>
<path d="M320.50 264.40H326.82V266.43H328.55V273.37H332.52V274.67H333.39V275.54H334.25V276.55H336.85V276.84H337.85V279.16H340.94V279.45H341.32V282.20H451.09V345.43H505.11" stroke="#4c6494" stroke-width="1.3" fill="none" stroke-linejoin="miter"/>
<path d="M343.00 280.50V283.90M347.00 280.50V283.90M348.50 280.50V283.90M350.00 280.50V283.90M353.00 280.50V283.90M356.00 280.50V283.90M357.50 280.50V283.90M361.00 280.50V283.90M366.00 280.50V283.90M368.00 280.50V283.90M372.00 280.50V283.90M374.00 280.50V283.90M377.00 280.50V283.90M379.00 280.50V283.90M381.50 280.50V283.90M386.00 280.50V283.90M393.00 280.50V283.90M402.20 280.50V283.90M403.50 280.50V283.90M406.90 280.50V283.90M409.20 280.50V283.90M412.70 280.50V283.90M421.90 280.50V283.90M429.50 280.50V283.90M505.00 343.73V347.13M332.00 272.97V276.37M334.00 274.85V278.25M338.50 277.46V280.86M341.00 277.75V281.15" stroke="#4c6494" stroke-width="0.9" fill="none"/>
<path d="M322.50 383.50H330.30" stroke="#b2224d" stroke-width="1.3"/>
<text transform="translate(334.40 387.10) scale(0.9 1)" x="0" y="0" font-size="9.9" text-anchor="start" fill="#231f20" stroke="#231f20" stroke-width="0.18" textLength="124.11" lengthAdjust="spacing">MRD<tspan font-size="5.6" dy="-4.0">+</tspan><tspan dy="4.0"> at EOT in PB (n = 22)</tspan></text>
<path d="M322.50 398.30H330.30" stroke="#4c6494" stroke-width="1.3"/>
<text transform="translate(334.40 401.90) scale(0.9 1)" x="0" y="0" font-size="9.9" text-anchor="start" fill="#231f20" stroke="#231f20" stroke-width="0.18" textLength="122.44" lengthAdjust="spacing">MRD<tspan font-size="5.6" dy="-4.0">–</tspan><tspan dy="4.0"> at EOT in PB (n = 64)</tspan></text>
<text x="475.30" y="278.60" font-size="9.8" fill="#231f20" stroke="#231f20" stroke-width="0.18" textLength="32.00" lengthAdjust="spacingAndGlyphs"><tspan font-style="italic">P</tspan> &lt; .001</text>
<text x="320.60" y="454.30" font-size="9.8" text-anchor="middle" fill="#a8163f" stroke="#a8163f" stroke-width="0.18" textLength="9.40" lengthAdjust="spacingAndGlyphs" >22</text>
<text x="332.99" y="454.30" font-size="9.8" text-anchor="middle" fill="#a8163f" stroke="#a8163f" stroke-width="0.18" textLength="9.40" lengthAdjust="spacingAndGlyphs" >16</text>
<text x="345.38" y="454.30" font-size="9.8" text-anchor="middle" fill="#a8163f" stroke="#a8163f" stroke-width="0.18" textLength="9.40" lengthAdjust="spacingAndGlyphs" >10</text>
<text x="357.77" y="454.30" font-size="9.8" text-anchor="middle" fill="#a8163f" stroke="#a8163f" stroke-width="0.18" textLength="4.40" lengthAdjust="spacingAndGlyphs" >6</text>
<text x="370.16" y="454.30" font-size="9.8" text-anchor="middle" fill="#a8163f" stroke="#a8163f" stroke-width="0.18" textLength="4.40" lengthAdjust="spacingAndGlyphs" >5</text>
<text x="382.55" y="454.30" font-size="9.8" text-anchor="middle" fill="#a8163f" stroke="#a8163f" stroke-width="0.18" textLength="4.40" lengthAdjust="spacingAndGlyphs" >3</text>
<text x="394.94" y="454.30" font-size="9.8" text-anchor="middle" fill="#a8163f" stroke="#a8163f" stroke-width="0.18" textLength="4.40" lengthAdjust="spacingAndGlyphs" >1</text>
<text x="407.33" y="454.30" font-size="9.8" text-anchor="middle" fill="#a8163f" stroke="#a8163f" stroke-width="0.18" textLength="4.40" lengthAdjust="spacingAndGlyphs" >0</text>
<text x="320.60" y="467.00" font-size="9.8" text-anchor="middle" fill="#3d5b93" stroke="#3d5b93" stroke-width="0.18" textLength="9.40" lengthAdjust="spacingAndGlyphs" >64</text>
<text x="332.99" y="467.00" font-size="9.8" text-anchor="middle" fill="#3d5b93" stroke="#3d5b93" stroke-width="0.18" textLength="9.40" lengthAdjust="spacingAndGlyphs" >52</text>
<text x="345.38" y="467.00" font-size="9.8" text-anchor="middle" fill="#3d5b93" stroke="#3d5b93" stroke-width="0.18" textLength="9.40" lengthAdjust="spacingAndGlyphs" >41</text>
<text x="357.77" y="467.00" font-size="9.8" text-anchor="middle" fill="#3d5b93" stroke="#3d5b93" stroke-width="0.18" textLength="9.40" lengthAdjust="spacingAndGlyphs" >32</text>
<text x="370.16" y="467.00" font-size="9.8" text-anchor="middle" fill="#3d5b93" stroke="#3d5b93" stroke-width="0.18" textLength="9.40" lengthAdjust="spacingAndGlyphs" >23</text>
<text x="382.55" y="467.00" font-size="9.8" text-anchor="middle" fill="#3d5b93" stroke="#3d5b93" stroke-width="0.18" textLength="9.40" lengthAdjust="spacingAndGlyphs" >14</text>
<text x="394.94" y="467.00" font-size="9.8" text-anchor="middle" fill="#3d5b93" stroke="#3d5b93" stroke-width="0.18" textLength="9.40" lengthAdjust="spacingAndGlyphs" >10</text>
<text x="407.33" y="467.00" font-size="9.8" text-anchor="middle" fill="#3d5b93" stroke="#3d5b93" stroke-width="0.18" textLength="4.40" lengthAdjust="spacingAndGlyphs" >6</text>
<text x="419.72" y="467.00" font-size="9.8" text-anchor="middle" fill="#3d5b93" stroke="#3d5b93" stroke-width="0.18" textLength="4.40" lengthAdjust="spacingAndGlyphs" >4</text>
<text x="432.11" y="467.00" font-size="9.8" text-anchor="middle" fill="#3d5b93" stroke="#3d5b93" stroke-width="0.18" textLength="4.40" lengthAdjust="spacingAndGlyphs" >2</text>
<text x="444.50" y="467.00" font-size="9.8" text-anchor="middle" fill="#3d5b93" stroke="#3d5b93" stroke-width="0.18" textLength="4.40" lengthAdjust="spacingAndGlyphs" >2</text>
<text x="456.89" y="467.00" font-size="9.8" text-anchor="middle" fill="#3d5b93" stroke="#3d5b93" stroke-width="0.18" textLength="4.40" lengthAdjust="spacingAndGlyphs" >1</text>
<text x="469.28" y="467.00" font-size="9.8" text-anchor="middle" fill="#3d5b93" stroke="#3d5b93" stroke-width="0.18" textLength="4.40" lengthAdjust="spacingAndGlyphs" >1</text>
<text x="481.67" y="467.00" font-size="9.8" text-anchor="middle" fill="#3d5b93" stroke="#3d5b93" stroke-width="0.18" textLength="4.40" lengthAdjust="spacingAndGlyphs" >1</text>
<text x="494.06" y="467.00" font-size="9.8" text-anchor="middle" fill="#3d5b93" stroke="#3d5b93" stroke-width="0.18" textLength="4.40" lengthAdjust="spacingAndGlyphs" >1</text>
<text x="506.45" y="467.00" font-size="9.8" text-anchor="middle" fill="#3d5b93" stroke="#3d5b93" stroke-width="0.18" textLength="4.40" lengthAdjust="spacingAndGlyphs" >0</text>
</svg></body></html>
